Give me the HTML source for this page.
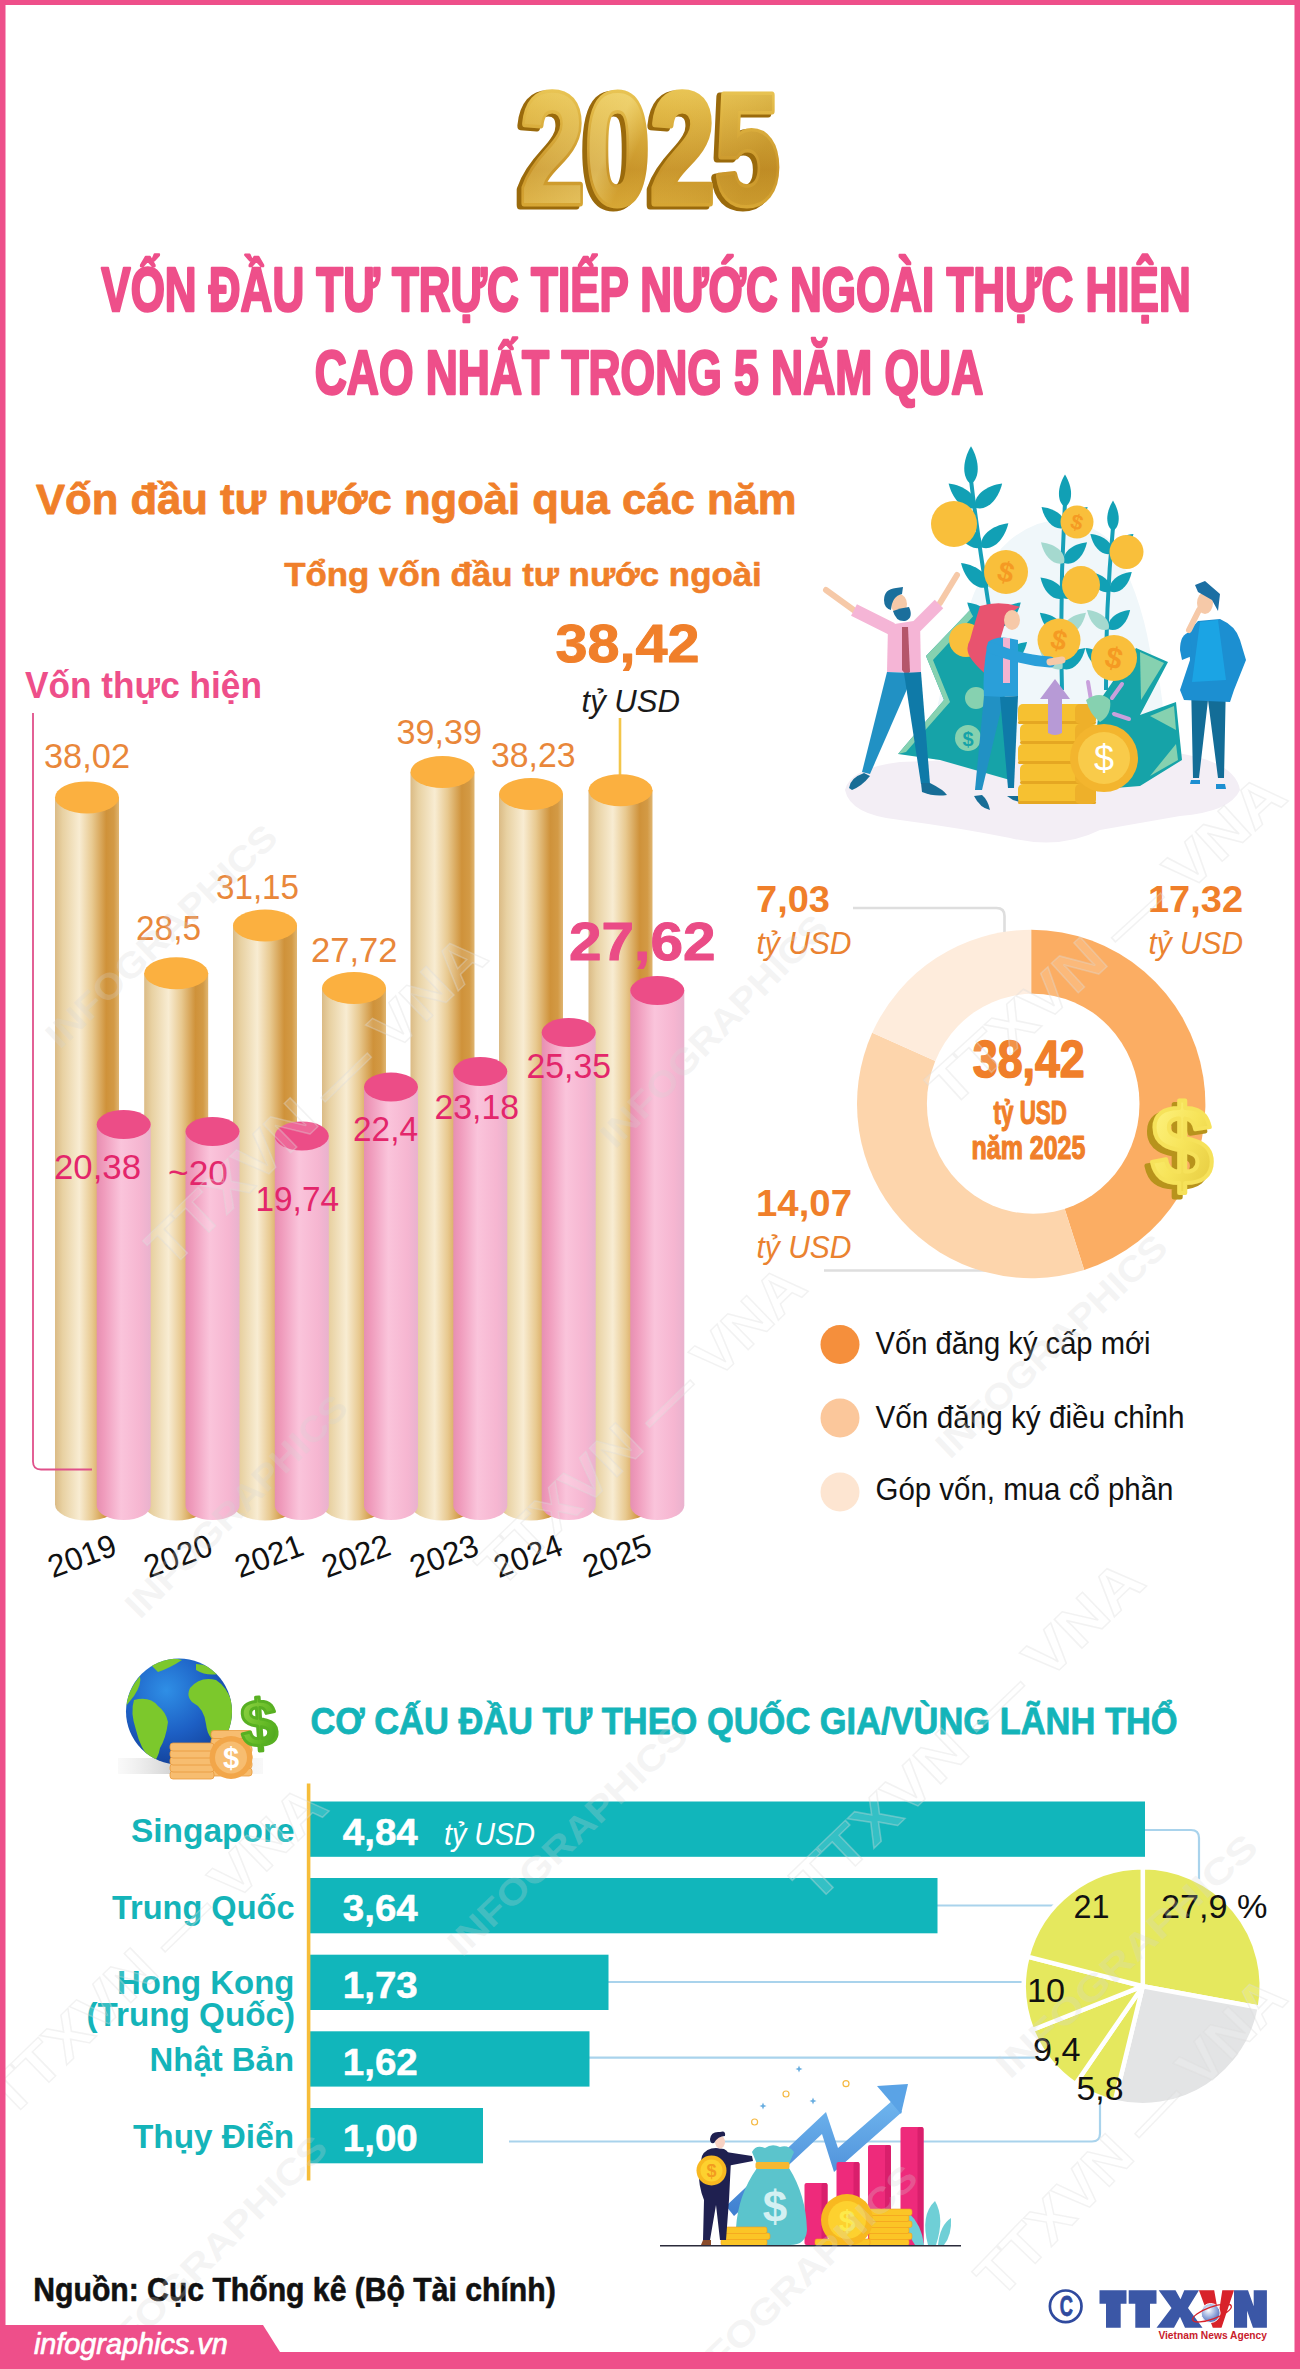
<!DOCTYPE html>
<html><head><meta charset="utf-8"><title>FDI 2025</title>
<style>html,body{margin:0;padding:0;background:#fff}svg{display:block}text{font-family:"Liberation Sans",sans-serif}</style>
</head><body>
<svg width="1300" height="2369" viewBox="0 0 1300 2369">
<rect x="0" y="0" width="1300" height="2369" fill="#fff"/>
<defs><linearGradient id="g25" x1="0" y1="0" x2="0" y2="1">
<stop offset="0" stop-color="#f3d668"/><stop offset="0.3" stop-color="#e0b644"/><stop offset="0.62" stop-color="#c9952a"/><stop offset="0.85" stop-color="#d8a835"/><stop offset="1" stop-color="#ecc452"/></linearGradient>
<linearGradient id="g25h" x1="0" y1="0" x2="1" y2="0.3"><stop offset="0" stop-color="#fff3a8" stop-opacity="0.0"/><stop offset="0.45" stop-color="#fff3a8" stop-opacity="0.35"/><stop offset="0.55" stop-color="#fff3a8" stop-opacity="0"/><stop offset="1" stop-color="#8a5a08" stop-opacity="0.15"/></linearGradient></defs>
<text x="516" y="205" font-family="Liberation Sans" font-weight="bold" font-size="157" textLength="260" lengthAdjust="spacingAndGlyphs" stroke-linejoin="round" fill="#9a6a0c" stroke="#9a6a0c" stroke-width="9">2025</text>
<text x="520" y="203" font-family="Liberation Sans" font-weight="bold" font-size="157" textLength="260" lengthAdjust="spacingAndGlyphs" stroke-linejoin="round" fill="url(#g25)" stroke="url(#g25)" stroke-width="7">2025</text>
<text x="520" y="203" font-family="Liberation Sans" font-weight="bold" font-size="157" textLength="260" lengthAdjust="spacingAndGlyphs" stroke-linejoin="round" fill="url(#g25h)" stroke="none">2025</text>
<text x="101.3" y="311.2" font-family="Liberation Sans" font-size="62.9" font-weight="bold" font-style="normal" fill="#ee4f8a" textLength="1089.4" lengthAdjust="spacingAndGlyphs"  stroke="#ee4f8a" stroke-width="2.6" stroke-linejoin="round">VỐN ĐẦU TƯ TRỰC TIẾP NƯỚC NGOÀI THỰC HIỆN</text>
<text x="314.8" y="394.2" font-family="Liberation Sans" font-size="62.9" font-weight="bold" font-style="normal" fill="#ee4f8a" textLength="668.4" lengthAdjust="spacingAndGlyphs"  stroke="#ee4f8a" stroke-width="2.6" stroke-linejoin="round">CAO NHẤT TRONG 5 NĂM QUA</text>
<text x="35.9" y="513.6" font-family="Liberation Sans" font-size="42.3" font-weight="bold" font-style="normal" fill="#f07f2a" textLength="760.7" lengthAdjust="spacingAndGlyphs"  stroke="#f07f2a" stroke-width="0.8" stroke-linejoin="round">Vốn đầu tư nước ngoài qua các năm</text>
<text x="284.3" y="585.7" font-family="Liberation Sans" font-size="33.2" font-weight="bold" font-style="normal" fill="#f07f2a" textLength="477.4" lengthAdjust="spacingAndGlyphs"  stroke="#f07f2a" stroke-width="0.6" stroke-linejoin="round">Tổng vốn đầu tư nước ngoài</text>
<text x="555.5" y="661.8" font-family="Liberation Sans" font-size="54.3" font-weight="bold" font-style="normal" fill="#f07f2a" textLength="144.0" lengthAdjust="spacingAndGlyphs"  stroke="#f07f2a" stroke-width="1" stroke-linejoin="round">38,42</text>
<text x="581.5" y="711.5" font-family="Liberation Sans" font-size="31.2" font-weight="normal" font-style="italic" fill="#1a1a1a" textLength="98.5" lengthAdjust="spacingAndGlyphs" >tỷ USD</text>
<text x="25.0" y="698.0" font-family="Liberation Sans" font-size="36.2" font-weight="bold" font-style="normal" fill="#ee4f8a" textLength="237.0" lengthAdjust="spacingAndGlyphs" >Vốn thực hiện</text>
<defs>
<linearGradient id="gG" x1="0" y1="0" x2="1" y2="0"><stop offset="0" stop-color="#dbbb85"/><stop offset="0.12" stop-color="#e8d1a2"/><stop offset="0.38" stop-color="#f8ecd2"/><stop offset="0.58" stop-color="#e8c990"/><stop offset="0.80" stop-color="#cf923a"/><stop offset="0.92" stop-color="#d39a45"/><stop offset="1" stop-color="#dfb571"/></linearGradient>
<linearGradient id="gP" x1="0" y1="0" x2="1" y2="0"><stop offset="0" stop-color="#e690b2"/><stop offset="0.12" stop-color="#ef9abb"/><stop offset="0.45" stop-color="#fac4db"/><stop offset="0.8" stop-color="#f6b6d1"/><stop offset="1" stop-color="#e9b2ce"/></linearGradient>
</defs>
<path d="M620 718 V775" stroke="#f3c64a" stroke-width="2.6"/>
<path d="M55 797.4 V1504.5 A32.0 16.0 0 0 0 119 1504.5 V797.4 Z" fill="url(#gG)"/>
<ellipse cx="87.0" cy="797.4" rx="32.0" ry="16.0" fill="#fbb040"/>
<path d="M144.2 973.3 V1504.5 A32.0 16.0 0 0 0 208.2 1504.5 V973.3 Z" fill="url(#gG)"/>
<ellipse cx="176.2" cy="973.3" rx="32.0" ry="16.0" fill="#fbb040"/>
<path d="M233 925.5 V1504.5 A32.0 16.0 0 0 0 297 1504.5 V925.5 Z" fill="url(#gG)"/>
<ellipse cx="265.0" cy="925.5" rx="32.0" ry="16.0" fill="#fbb040"/>
<path d="M322 988.0 V1504.5 A32.0 16.0 0 0 0 386 1504.5 V988.0 Z" fill="url(#gG)"/>
<ellipse cx="354.0" cy="988.0" rx="32.0" ry="16.0" fill="#fbb040"/>
<path d="M410.5 772.0 V1504.5 A32.0 16.0 0 0 0 474.5 1504.5 V772.0 Z" fill="url(#gG)"/>
<ellipse cx="442.5" cy="772.0" rx="32.0" ry="16.0" fill="#fbb040"/>
<path d="M499 794.0 V1504.5 A32.0 16.0 0 0 0 563 1504.5 V794.0 Z" fill="url(#gG)"/>
<ellipse cx="531.0" cy="794.0" rx="32.0" ry="16.0" fill="#fbb040"/>
<path d="M588.5 790.3 V1504.5 A32.0 16.0 0 0 0 652.5 1504.5 V790.3 Z" fill="url(#gG)"/>
<ellipse cx="620.5" cy="790.3" rx="32.0" ry="16.0" fill="#fbb040"/>
<path d="M33 713 V1461.5 Q33 1469.5 41 1469.5 H92" fill="none" stroke="#e0508a" stroke-width="1.8"/>
<path d="M96.7 1124.5 V1505.5 A27.0 14.5 0 0 0 150.7 1505.5 V1124.5 Z" fill="url(#gP)"/>
<ellipse cx="123.7" cy="1124.5" rx="27.0" ry="14.5" fill="#ec4d87"/>
<path d="M185.5 1131.5 V1505.5 A27.0 14.5 0 0 0 239.5 1505.5 V1131.5 Z" fill="url(#gP)"/>
<ellipse cx="212.5" cy="1131.5" rx="27.0" ry="14.5" fill="#ec4d87"/>
<path d="M274.8 1136.0 V1505.5 A27.0 14.5 0 0 0 328.8 1505.5 V1136.0 Z" fill="url(#gP)"/>
<ellipse cx="301.8" cy="1136.0" rx="27.0" ry="14.5" fill="#ec4d87"/>
<path d="M364 1087.1 V1505.5 A27.0 14.5 0 0 0 418 1505.5 V1087.1 Z" fill="url(#gP)"/>
<ellipse cx="391.0" cy="1087.1" rx="27.0" ry="14.5" fill="#ec4d87"/>
<path d="M453.3 1071.5 V1505.5 A27.0 14.5 0 0 0 507.3 1505.5 V1071.5 Z" fill="url(#gP)"/>
<ellipse cx="480.3" cy="1071.5" rx="27.0" ry="14.5" fill="#ec4d87"/>
<path d="M541.7 1032.5 V1505.5 A27.0 14.5 0 0 0 595.7 1505.5 V1032.5 Z" fill="url(#gP)"/>
<ellipse cx="568.7" cy="1032.5" rx="27.0" ry="14.5" fill="#ec4d87"/>
<path d="M630.3 990.5 V1505.5 A27.0 14.5 0 0 0 684.3 1505.5 V990.5 Z" fill="url(#gP)"/>
<ellipse cx="657.3" cy="990.5" rx="27.0" ry="14.5" fill="#ec4d87"/>
<text x="44.0" y="768.0" font-family="Liberation Sans" font-size="35.5" font-weight="normal" font-style="normal" fill="#e9873a" textLength="86.0" lengthAdjust="spacingAndGlyphs" >38,02</text>
<text x="136.0" y="940.0" font-family="Liberation Sans" font-size="35.5" font-weight="normal" font-style="normal" fill="#e9873a" textLength="65.0" lengthAdjust="spacingAndGlyphs" >28,5</text>
<text x="216.0" y="899.0" font-family="Liberation Sans" font-size="35.5" font-weight="normal" font-style="normal" fill="#e9873a" textLength="83.0" lengthAdjust="spacingAndGlyphs" >31,15</text>
<text x="311.0" y="961.5" font-family="Liberation Sans" font-size="35.5" font-weight="normal" font-style="normal" fill="#e9873a" textLength="86.5" lengthAdjust="spacingAndGlyphs" >27,72</text>
<text x="396.5" y="744.0" font-family="Liberation Sans" font-size="35.5" font-weight="normal" font-style="normal" fill="#e9873a" textLength="85.5" lengthAdjust="spacingAndGlyphs" >39,39</text>
<text x="491.0" y="766.5" font-family="Liberation Sans" font-size="35.5" font-weight="normal" font-style="normal" fill="#e9873a" textLength="84.5" lengthAdjust="spacingAndGlyphs" >38,23</text>
<text x="569.0" y="959.5" font-family="Liberation Sans" font-size="53.6" font-weight="bold" font-style="normal" fill="#ea4c86" textLength="146.5" lengthAdjust="spacingAndGlyphs"  stroke="#ea4c86" stroke-width="1" stroke-linejoin="round">27,62</text>
<text x="54.0" y="1178.5" font-family="Liberation Sans" font-size="35.5" font-weight="normal" font-style="normal" fill="#e3266b" textLength="87.0" lengthAdjust="spacingAndGlyphs" >20,38</text>
<text x="168.0" y="1185.0" font-family="Liberation Sans" font-size="35.5" font-weight="normal" font-style="normal" fill="#e3266b" textLength="60.0" lengthAdjust="spacingAndGlyphs" >~20</text>
<text x="255.5" y="1211.0" font-family="Liberation Sans" font-size="35.5" font-weight="normal" font-style="normal" fill="#e3266b" textLength="83.5" lengthAdjust="spacingAndGlyphs" >19,74</text>
<text x="353.0" y="1141.0" font-family="Liberation Sans" font-size="35.5" font-weight="normal" font-style="normal" fill="#e3266b" textLength="65.0" lengthAdjust="spacingAndGlyphs" >22,4</text>
<text x="434.5" y="1119.0" font-family="Liberation Sans" font-size="35.5" font-weight="normal" font-style="normal" fill="#e3266b" textLength="84.5" lengthAdjust="spacingAndGlyphs" >23,18</text>
<text x="526.5" y="1077.8" font-family="Liberation Sans" font-size="35.5" font-weight="normal" font-style="normal" fill="#e3266b" textLength="84.5" lengthAdjust="spacingAndGlyphs" >25,35</text>
<text x="82" y="1567" text-anchor="middle" font-family="Liberation Sans" font-size="32" fill="#111" transform="rotate(-20 82 1556)" textLength="70" lengthAdjust="spacingAndGlyphs">2019</text>
<text x="178" y="1567" text-anchor="middle" font-family="Liberation Sans" font-size="32" fill="#111" transform="rotate(-20 178 1556)" textLength="70" lengthAdjust="spacingAndGlyphs">2020</text>
<text x="269" y="1567" text-anchor="middle" font-family="Liberation Sans" font-size="32" fill="#111" transform="rotate(-20 269 1556)" textLength="70" lengthAdjust="spacingAndGlyphs">2021</text>
<text x="356" y="1567" text-anchor="middle" font-family="Liberation Sans" font-size="32" fill="#111" transform="rotate(-20 356 1556)" textLength="70" lengthAdjust="spacingAndGlyphs">2022</text>
<text x="444" y="1567" text-anchor="middle" font-family="Liberation Sans" font-size="32" fill="#111" transform="rotate(-20 444 1556)" textLength="70" lengthAdjust="spacingAndGlyphs">2023</text>
<text x="528" y="1567" text-anchor="middle" font-family="Liberation Sans" font-size="32" fill="#111" transform="rotate(-20 528 1556)" textLength="70" lengthAdjust="spacingAndGlyphs">2024</text>
<text x="617" y="1567" text-anchor="middle" font-family="Liberation Sans" font-size="32" fill="#111" transform="rotate(-20 617 1556)" textLength="70" lengthAdjust="spacingAndGlyphs">2025</text>
<g id="illus1">
<path d="M845 790 Q850 768 900 762 L1170 752 Q1235 760 1240 790 Q1230 812 1180 816 L1100 830 Q1060 850 1010 838 Q960 828 900 820 Q850 815 845 790 Z" fill="#f3eef5"/>
<path d="M935 760 Q930 700 960 640 Q975 570 1010 540 Q1060 500 1110 540 Q1140 590 1150 650 Q1170 700 1160 760 Z" fill="#f0f7fa"/>
<path d="M926 656 L973 607 L1000 625 L1010 780 L940 760 L898 754 L944 700 Z" fill="#16a3a8"/>
<path d="M926 656 L973 607 L978 611 L933 660 L950 702 L906 752 L898 754 L944 700 Z" fill="#86d1b0"/>
<circle cx="976" cy="698" r="11" fill="#86d1b0"/><circle cx="968" cy="738" r="13" fill="#86d1b0"/>
<text x="968" y="746" font-size="20" font-weight="bold" fill="#16a3a8" text-anchor="middle" font-family="Liberation Sans">$</text>
<path d="M1100 700 L1136 648 L1168 662 L1140 715 L1176 702 L1182 760 L1140 786 L1090 790 Z" fill="#16a3a8"/>
<path d="M1140 652 L1164 663 L1141 700 Z" fill="#86d1b0"/><path d="M1150 716 L1174 706 L1176 730 Z" fill="#86d1b0"/><path d="M1150 776 L1178 760 L1176 744 Z" fill="#86d1b0"/>
<path d="M1004 690 Q983.5 585.0 971 480" stroke="#17a0b8" stroke-width="4" fill="none"/>
<path d="M0 0 C5.4 -10 21.6 -10 36 0 C21.6 10 5.4 10 0 0 Z" fill="#11a0b5" transform="translate(1000.3 666.2) rotate(-42)"/>
<path d="M0 0 C5.4 -10 21.6 -10 36 0 C21.6 10 5.4 10 0 0 Z" fill="#a5d9cf" transform="translate(1000.3 666.2) rotate(-138)"/>
<path d="M0 0 C5.4 -10 21.6 -10 36 0 C21.6 10 5.4 10 0 0 Z" fill="#11a0b5" transform="translate(994.0 626.6) rotate(-42)"/>
<path d="M0 0 C5.4 -10 21.6 -10 36 0 C21.6 10 5.4 10 0 0 Z" fill="#11a0b5" transform="translate(994.0 626.6) rotate(-138)"/>
<path d="M0 0 C5.4 -10 21.6 -10 36 0 C21.6 10 5.4 10 0 0 Z" fill="#a5d9cf" transform="translate(987.8 587.0) rotate(-42)"/>
<path d="M0 0 C5.4 -10 21.6 -10 36 0 C21.6 10 5.4 10 0 0 Z" fill="#11a0b5" transform="translate(987.8 587.0) rotate(-138)"/>
<path d="M0 0 C5.4 -10 21.6 -10 36 0 C21.6 10 5.4 10 0 0 Z" fill="#11a0b5" transform="translate(981.6 547.4) rotate(-42)"/>
<path d="M0 0 C5.4 -10 21.6 -10 36 0 C21.6 10 5.4 10 0 0 Z" fill="#11a0b5" transform="translate(981.6 547.4) rotate(-138)"/>
<path d="M0 0 C5.4 -10 21.6 -10 36 0 C21.6 10 5.4 10 0 0 Z" fill="#11a0b5" transform="translate(975.4 507.7) rotate(-42)"/>
<path d="M0 0 C5.4 -10 21.6 -10 36 0 C21.6 10 5.4 10 0 0 Z" fill="#11a0b5" transform="translate(975.4 507.7) rotate(-138)"/>
<path d="M0 0 C5.7 -9.0 22.7 -9.0 37.800000000000004 0 C22.7 9.0 5.7 9.0 0 0 Z" fill="#11a0b5" transform="translate(971.0 484.0) rotate(-90)"/>
<path d="M1062 690 Q1059.5 596.5 1065 503" stroke="#17a0b8" stroke-width="4" fill="none"/>
<path d="M0 0 C4.6 -9 18.6 -9 31 0 C18.6 9 4.6 9 0 0 Z" fill="#11a0b5" transform="translate(1062.3 668.8) rotate(-42)"/>
<path d="M0 0 C4.6 -9 18.6 -9 31 0 C18.6 9 4.6 9 0 0 Z" fill="#a5d9cf" transform="translate(1062.3 668.8) rotate(-138)"/>
<path d="M0 0 C4.6 -9 18.6 -9 31 0 C18.6 9 4.6 9 0 0 Z" fill="#a5d9cf" transform="translate(1062.9 633.5) rotate(-42)"/>
<path d="M0 0 C4.6 -9 18.6 -9 31 0 C18.6 9 4.6 9 0 0 Z" fill="#11a0b5" transform="translate(1062.9 633.5) rotate(-138)"/>
<path d="M0 0 C4.6 -9 18.6 -9 31 0 C18.6 9 4.6 9 0 0 Z" fill="#11a0b5" transform="translate(1063.5 598.3) rotate(-42)"/>
<path d="M0 0 C4.6 -9 18.6 -9 31 0 C18.6 9 4.6 9 0 0 Z" fill="#11a0b5" transform="translate(1063.5 598.3) rotate(-138)"/>
<path d="M0 0 C4.6 -9 18.6 -9 31 0 C18.6 9 4.6 9 0 0 Z" fill="#11a0b5" transform="translate(1064.0 563.0) rotate(-42)"/>
<path d="M0 0 C4.6 -9 18.6 -9 31 0 C18.6 9 4.6 9 0 0 Z" fill="#a5d9cf" transform="translate(1064.0 563.0) rotate(-138)"/>
<path d="M0 0 C4.6 -9 18.6 -9 31 0 C18.6 9 4.6 9 0 0 Z" fill="#11a0b5" transform="translate(1064.6 527.7) rotate(-42)"/>
<path d="M0 0 C4.6 -9 18.6 -9 31 0 C18.6 9 4.6 9 0 0 Z" fill="#11a0b5" transform="translate(1064.6 527.7) rotate(-138)"/>
<path d="M0 0 C4.9 -8.1 19.5 -8.1 32.550000000000004 0 C19.5 8.1 4.9 8.1 0 0 Z" fill="#11a0b5" transform="translate(1065.0 507.0) rotate(-90)"/>
<path d="M1106 690 Q1105.5 608.5 1113 527" stroke="#17a0b8" stroke-width="4" fill="none"/>
<path d="M0 0 C4.3 -8.5 17.4 -8.5 29 0 C17.4 8.5 4.3 8.5 0 0 Z" fill="#11a0b5" transform="translate(1107.0 667.3) rotate(-42)"/>
<path d="M0 0 C4.3 -8.5 17.4 -8.5 29 0 C17.4 8.5 4.3 8.5 0 0 Z" fill="#11a0b5" transform="translate(1107.0 667.3) rotate(-138)"/>
<path d="M0 0 C4.3 -8.5 17.4 -8.5 29 0 C17.4 8.5 4.3 8.5 0 0 Z" fill="#11a0b5" transform="translate(1108.6 629.3) rotate(-42)"/>
<path d="M0 0 C4.3 -8.5 17.4 -8.5 29 0 C17.4 8.5 4.3 8.5 0 0 Z" fill="#a5d9cf" transform="translate(1108.6 629.3) rotate(-138)"/>
<path d="M0 0 C4.3 -8.5 17.4 -8.5 29 0 C17.4 8.5 4.3 8.5 0 0 Z" fill="#11a0b5" transform="translate(1110.2 591.4) rotate(-42)"/>
<path d="M0 0 C4.3 -8.5 17.4 -8.5 29 0 C17.4 8.5 4.3 8.5 0 0 Z" fill="#11a0b5" transform="translate(1110.2 591.4) rotate(-138)"/>
<path d="M0 0 C4.3 -8.5 17.4 -8.5 29 0 C17.4 8.5 4.3 8.5 0 0 Z" fill="#11a0b5" transform="translate(1111.9 553.5) rotate(-42)"/>
<path d="M0 0 C4.3 -8.5 17.4 -8.5 29 0 C17.4 8.5 4.3 8.5 0 0 Z" fill="#11a0b5" transform="translate(1111.9 553.5) rotate(-138)"/>
<path d="M0 0 C4.6 -7.65 18.3 -7.65 30.450000000000003 0 C18.3 7.65 4.6 7.65 0 0 Z" fill="#11a0b5" transform="translate(1113.0 531.0) rotate(-90)"/>
<circle cx="954" cy="524" r="23" fill="#f9bf3b"/>
<circle cx="1006" cy="572" r="22" fill="#f9bf3b"/>
<text x="1006" y="581.9" font-size="28.6" font-weight="bold" fill="#f59a23" text-anchor="middle" font-family="Liberation Sans" transform="rotate(15 1006 572)">$</text>
<circle cx="1077" cy="522" r="16.5" fill="#f9bf3b"/>
<text x="1077" y="529.425" font-size="21.4" font-weight="bold" fill="#f59a23" text-anchor="middle" font-family="Liberation Sans" transform="rotate(15 1077 522)">$</text>
<circle cx="1126.5" cy="552" r="17" fill="#f9bf3b"/>
<circle cx="1081" cy="585" r="19" fill="#f9bf3b"/>
<circle cx="966" cy="640" r="17" fill="#f9bf3b"/>
<circle cx="1059" cy="640" r="21.5" fill="#f9bf3b"/>
<text x="1059" y="649.675" font-size="27.9" font-weight="bold" fill="#f59a23" text-anchor="middle" font-family="Liberation Sans" transform="rotate(15 1059 640)">$</text>
<circle cx="1114" cy="658" r="23" fill="#f9bf3b"/>
<text x="1114" y="668.35" font-size="29.9" font-weight="bold" fill="#f59a23" text-anchor="middle" font-family="Liberation Sans" transform="rotate(15 1114 658)">$</text>
<path d="M855 611 L826 590" stroke="#f6c9a8" stroke-width="6" stroke-linecap="round"/>
<path d="M940 603 L957 575" stroke="#f6c9a8" stroke-width="6" stroke-linecap="round"/>
<path d="M854 610 L892 629" stroke="#f5b5d6" stroke-width="13" stroke-linecap="butt"/>
<path d="M916 627 L939 604" stroke="#f5b5d6" stroke-width="12" stroke-linecap="butt"/>
<path d="M888 625 L920 620 L921 673 L887 672 Z" fill="#f5b5d6"/>
<path d="M902 627 L908 627 L910 672 L906 675 L902 670 Z" fill="#b5566b"/>
<path d="M887 672 L914 673 L870 774 L862 772 Z" fill="#2191c4"/>
<path d="M904 673 L921 672 L930 784 L921 784 Z" fill="#0f7aa8"/>
<path d="M849 788 Q850 778 864 773 L870 776 Q862 786 852 790 Z" fill="#176d96"/>
<path d="M921 783 L930 783 Q944 790 947 795 Q934 797 922 792 Z" fill="#176d96"/>
<ellipse cx="899" cy="604" rx="8" ry="10" fill="#f6c9a8"/>
<path d="M884 600 Q884 589 896 588 L903 587 L902 594 Q892 596 891 610 Q884 608 884 600 Z" fill="#1b6f9c"/>
<path d="M893 611 Q900 608 909 607 Q914 618 905 621 Q896 622 893 611 Z" fill="#1b6f9c"/>
<path d="M980 606 Q1000 600 1020 607 Q1010 612 1006 620 L1000 640 Q990 650 988 676 Q978 668 972 660 Q964 650 970 640 Q974 625 980 606 Z" fill="#e8536f"/>
<ellipse cx="1012" cy="620" rx="8" ry="10" fill="#f6c9a8"/>
<path d="M988 642 Q996 636 1008 638 L1018 640 L1018 696 L984 698 Q982 670 988 642 Z" fill="#2a9fd9"/>
<rect x="1003" y="638" width="7" height="45" fill="#f3b3d0"/>
<path d="M992 648 Q1020 660 1050 662" stroke="#2a9fd9" stroke-width="11" stroke-linecap="round" fill="none"/>
<path d="M1050 662 L1062 660" stroke="#f6c9a8" stroke-width="7" stroke-linecap="round"/>
<path d="M984 696 L1004 697 L982 790 L975 790 Z" fill="#2191c4"/>
<path d="M1000 697 L1018 696 L1014 788 L1008 788 Z" fill="#0f7aa8"/>
<path d="M974 796 Q980 808 990 810 Q988 800 982 795 Z" fill="#176d96"/><path d="M1007 796 Q1014 802 1022 802 L1020 796 Z" fill="#176d96"/>
<rect x="1018" y="784" width="78" height="20" rx="5" fill="#f6c131"/>
<rect x="1018" y="801" width="78" height="3" rx="1.5" fill="#e5a722"/>
<rect x="1075" y="784" width="21" height="20" rx="5" fill="#eeb02a"/>
<rect x="1020" y="764" width="78" height="20" rx="5" fill="#f6c131"/>
<rect x="1020" y="781" width="78" height="3" rx="1.5" fill="#e5a722"/>
<rect x="1075" y="764" width="21" height="20" rx="5" fill="#eeb02a"/>
<rect x="1018" y="744" width="78" height="20" rx="5" fill="#f6c131"/>
<rect x="1018" y="761" width="78" height="3" rx="1.5" fill="#e5a722"/>
<rect x="1075" y="744" width="21" height="20" rx="5" fill="#eeb02a"/>
<rect x="1020" y="724" width="78" height="20" rx="5" fill="#f6c131"/>
<rect x="1020" y="741" width="78" height="3" rx="1.5" fill="#e5a722"/>
<rect x="1075" y="724" width="21" height="20" rx="5" fill="#eeb02a"/>
<rect x="1018" y="704" width="78" height="20" rx="5" fill="#f6c131"/>
<rect x="1018" y="721" width="78" height="3" rx="1.5" fill="#e5a722"/>
<rect x="1075" y="704" width="21" height="20" rx="5" fill="#eeb02a"/>
<circle cx="1104" cy="758" r="34" fill="#f3b52e"/><circle cx="1104" cy="758" r="26" fill="#f9cb4a"/>
<text x="1104" y="771" font-size="36" fill="#fff" text-anchor="middle" font-family="Liberation Sans">$</text>
<path d="M1055 679 L1070 699 L1062 699 L1062 733 Q1055 737 1048 733 L1048 699 L1040 699 Z" fill="#b79ad6"/>
<path d="M1088 682 L1091 700" stroke="#c9a0dc" stroke-width="4" stroke-linecap="round"/><path d="M1122 684 L1112 698" stroke="#c9a0dc" stroke-width="4" stroke-linecap="round"/><path d="M1114 714 L1129 719" stroke="#c9a0dc" stroke-width="4" stroke-linecap="round"/>
<path d="M1086 700 Q1100 690 1110 700 Q1112 715 1100 722 Q1090 715 1086 700 Z" fill="#86d1b0"/>
<path d="M1191 682 L1226 680 L1224 778 L1218 778 L1208 700 L1199 778 L1193 778 Z" fill="#136d97"/>
<path d="M1198 621 L1220 619 Q1236 626 1240 640 L1246 660 L1234 690 L1230 702 L1184 700 L1180 690 L1190 660 L1188 632 Z" fill="#1c8fd1"/>
<path d="M1200 622 L1218 620 L1226 680 L1192 682 Z" fill="#1ba4e4"/>
<path d="M1190 632 Q1180 634 1180 650 L1182 660 L1192 656 Z" fill="#1c8fd1"/>
<path d="M1189 630 L1199 610" stroke="#f6c9a8" stroke-width="6" stroke-linecap="round"/>
<ellipse cx="1205" cy="603" rx="8" ry="11" fill="#f6c9a8"/>
<path d="M1195 585 L1205 581 L1220 594 L1218 611 L1212 600 L1198 592 Z" fill="#1c6fa3"/>
<path d="M1191 780 h9 v4 h-10 Z" fill="#1c8fd1"/><path d="M1216 784 h9 l1 5 h-10 Z" fill="#1c8fd1"/>
</g>
<path d="M853 908 H996.5 Q1004.5 908 1004.5 916 V934" fill="none" stroke="#dedede" stroke-width="2.6"/>
<path d="M824 1270.5 H1027" fill="none" stroke="#dedede" stroke-width="2.6"/>
<path d="M1031.2 1104 L1031.20 929.80 A174.2 174.2 0 0 1 1084.19 1269.94 Z" fill="#fbad63"/>
<path d="M1031.2 1104 L1084.19 1269.94 A174.2 174.2 0 0 1 872.22 1032.79 Z" fill="#fdd5ac"/>
<path d="M1031.2 1104 L872.22 1032.79 A174.2 174.2 0 0 1 1031.20 929.80 Z" fill="#feecdc"/>
<ellipse cx="1033.2" cy="1103.8" rx="106.3" ry="110" fill="#fff"/>
<text x="756.0" y="912.0" font-family="Liberation Sans" font-size="36.2" font-weight="bold" font-style="normal" fill="#f07f2a" textLength="74.0" lengthAdjust="spacingAndGlyphs" >7,03</text>
<text x="756.5" y="954.0" font-family="Liberation Sans" font-size="31.9" font-weight="normal" font-style="italic" fill="#ea8230" textLength="95.0" lengthAdjust="spacingAndGlyphs" >tỷ USD</text>
<text x="1148.0" y="912.0" font-family="Liberation Sans" font-size="36.2" font-weight="bold" font-style="normal" fill="#f07f2a" textLength="95.0" lengthAdjust="spacingAndGlyphs" >17,32</text>
<text x="1148.5" y="954.0" font-family="Liberation Sans" font-size="31.9" font-weight="normal" font-style="italic" fill="#ea8230" textLength="94.5" lengthAdjust="spacingAndGlyphs" >tỷ USD</text>
<text x="756.0" y="1216.0" font-family="Liberation Sans" font-size="36.2" font-weight="bold" font-style="normal" fill="#f07f2a" textLength="96.0" lengthAdjust="spacingAndGlyphs" >14,07</text>
<text x="756.5" y="1257.5" font-family="Liberation Sans" font-size="31.9" font-weight="normal" font-style="italic" fill="#ea8230" textLength="95.0" lengthAdjust="spacingAndGlyphs" >tỷ USD</text>
<text x="972.8" y="1077.2" font-family="Liberation Sans" font-size="51.3" font-weight="bold" font-style="normal" fill="#f07f2a" textLength="111.9" lengthAdjust="spacingAndGlyphs"  stroke="#f07f2a" stroke-width="1.6" stroke-linejoin="round">38,42</text>
<text x="993.6" y="1124.4" font-family="Liberation Sans" font-size="32.3" font-weight="bold" font-style="normal" fill="#f07f2a" textLength="73.3" lengthAdjust="spacingAndGlyphs"  stroke="#f07f2a" stroke-width="1.2" stroke-linejoin="round">tỷ USD</text>
<text x="971.6" y="1159.4" font-family="Liberation Sans" font-size="32.3" font-weight="bold" font-style="normal" fill="#f07f2a" textLength="113.8" lengthAdjust="spacingAndGlyphs"  stroke="#f07f2a" stroke-width="1.2" stroke-linejoin="round">năm 2025</text>
<defs><linearGradient id="gD" x1="0" y1="0" x2="1" y2="1"><stop offset="0" stop-color="#fff68a"/><stop offset="0.5" stop-color="#f7e45a"/><stop offset="1" stop-color="#e2c53a"/></linearGradient></defs>
<text x="1177" y="1189" text-anchor="middle" font-family="Liberation Sans" font-weight="bold" font-size="113" fill="#b8931c" stroke="#b8931c" stroke-width="5" stroke-linejoin="round">$</text>
<text x="1182" y="1185" text-anchor="middle" font-family="Liberation Sans" font-weight="bold" font-size="113" fill="url(#gD)" stroke="#f6e25a" stroke-width="4" stroke-linejoin="round">$</text>
<circle cx="840" cy="1344.5" r="19.5" fill="#f58f3c"/>
<text x="875.5" y="1354.0" font-family="Liberation Sans" font-size="31.9" font-weight="normal" font-style="normal" fill="#111" textLength="275.0" lengthAdjust="spacingAndGlyphs" >Vốn đăng ký cấp mới</text>
<circle cx="840" cy="1418" r="19.5" fill="#fbc79b"/>
<text x="875.5" y="1427.5" font-family="Liberation Sans" font-size="31.9" font-weight="normal" font-style="normal" fill="#111" textLength="309.0" lengthAdjust="spacingAndGlyphs" >Vốn đăng ký điều chỉnh</text>
<circle cx="840" cy="1492" r="19.5" fill="#fde5d1"/>
<text x="875.5" y="1499.5" font-family="Liberation Sans" font-size="31.9" font-weight="normal" font-style="normal" fill="#111" textLength="298.0" lengthAdjust="spacingAndGlyphs" >Góp vốn, mua cổ phần</text>
<text x="310.4" y="1734.4" font-family="Liberation Sans" font-size="36.5" font-weight="bold" font-style="normal" fill="#14b4b9" textLength="867.2" lengthAdjust="spacingAndGlyphs"  stroke="#14b4b9" stroke-width="0.8" stroke-linejoin="round">CƠ CẤU ĐẦU TƯ THEO QUỐC GIA/VÙNG LÃNH THỔ</text>
<path d="M1145 1830 H1191 Q1199 1830 1199 1838 V1890" fill="none" stroke="#a9d3ec" stroke-width="2.2"/>
<path d="M937 1905.5 H1056" fill="none" stroke="#a9d3ec" stroke-width="2.2"/>
<path d="M608 1982 H1023" fill="none" stroke="#a9d3ec" stroke-width="2.2"/>
<path d="M589 2057.7 H1036" fill="none" stroke="#a9d3ec" stroke-width="2.2"/>
<path d="M509 2141.5 H1092 Q1100 2141.5 1100 2133.5 V2095" fill="none" stroke="#a9d3ec" stroke-width="2.2"/>
<rect x="310" y="1801.5" width="835" height="55.3" fill="#11b6bb"/>
<rect x="310" y="1878" width="627.5" height="55.3" fill="#11b6bb"/>
<rect x="310" y="1954.7" width="298.5" height="55.3" fill="#11b6bb"/>
<rect x="310" y="2031.3" width="279.5" height="55.3" fill="#11b6bb"/>
<rect x="310" y="2108" width="173" height="55.3" fill="#11b6bb"/>
<rect x="306.8" y="1783.5" width="3.6" height="397" fill="#f6bd3a"/>
<text x="131.0" y="1842.0" font-family="Liberation Sans" font-size="34.1" font-weight="bold" font-style="normal" fill="#14b4b9" textLength="163.5" lengthAdjust="spacingAndGlyphs" >Singapore</text>
<text x="112.0" y="1919.0" font-family="Liberation Sans" font-size="34.1" font-weight="bold" font-style="normal" fill="#14b4b9" textLength="182.5" lengthAdjust="spacingAndGlyphs" >Trung Quốc</text>
<text x="117.0" y="1994.0" font-family="Liberation Sans" font-size="33.3" font-weight="bold" font-style="normal" fill="#14b4b9" textLength="177.5" lengthAdjust="spacingAndGlyphs" >Hong Kong</text>
<text x="86.5" y="2025.7" font-family="Liberation Sans" font-size="32.6" font-weight="bold" font-style="normal" fill="#14b4b9" textLength="208.5" lengthAdjust="spacingAndGlyphs" >(Trung Quốc)</text>
<text x="149.5" y="2071.3" font-family="Liberation Sans" font-size="33.8" font-weight="bold" font-style="normal" fill="#14b4b9" textLength="144.5" lengthAdjust="spacingAndGlyphs" >Nhật Bản</text>
<text x="133.0" y="2147.5" font-family="Liberation Sans" font-size="34.1" font-weight="bold" font-style="normal" fill="#14b4b9" textLength="161.0" lengthAdjust="spacingAndGlyphs" >Thụy Điển</text>
<text x="342.8" y="1844.8" font-family="Liberation Sans" font-size="36.2" font-weight="bold" font-style="normal" fill="#fff" textLength="75.0" lengthAdjust="spacingAndGlyphs"  stroke="#fff" stroke-width="0.5" stroke-linejoin="round">4,84</text>
<text x="342.8" y="1921.3" font-family="Liberation Sans" font-size="36.2" font-weight="bold" font-style="normal" fill="#fff" textLength="75.0" lengthAdjust="spacingAndGlyphs"  stroke="#fff" stroke-width="0.5" stroke-linejoin="round">3,64</text>
<text x="342.8" y="1998.0" font-family="Liberation Sans" font-size="36.2" font-weight="bold" font-style="normal" fill="#fff" textLength="75.0" lengthAdjust="spacingAndGlyphs"  stroke="#fff" stroke-width="0.5" stroke-linejoin="round">1,73</text>
<text x="342.8" y="2074.6" font-family="Liberation Sans" font-size="36.2" font-weight="bold" font-style="normal" fill="#fff" textLength="75.0" lengthAdjust="spacingAndGlyphs"  stroke="#fff" stroke-width="0.5" stroke-linejoin="round">1,62</text>
<text x="342.8" y="2151.2" font-family="Liberation Sans" font-size="36.2" font-weight="bold" font-style="normal" fill="#fff" textLength="75.0" lengthAdjust="spacingAndGlyphs"  stroke="#fff" stroke-width="0.5" stroke-linejoin="round">1,00</text>
<text x="444.0" y="1844.5" font-family="Liberation Sans" font-size="31.9" font-weight="normal" font-style="italic" fill="#fff" textLength="91.0" lengthAdjust="spacingAndGlyphs" >tỷ USD</text>
<path d="M1142.80 1986.20 L1142.80 1867.20 A119 119 0 0 1 1259.83 2007.76 Z" fill="#e5e85e" stroke="#fff" stroke-width="4.5" stroke-linejoin="round"/>
<path d="M1142.80 1986.20 L1259.83 2007.76 A119 119 0 0 1 1114.66 2101.82 Z" fill="#e3e4e5" stroke="#fff" stroke-width="4.5" stroke-linejoin="round"/>
<path d="M1142.80 1986.20 L1114.66 2101.82 A119 119 0 0 1 1075.29 2084.20 Z" fill="#e5e85e" stroke="#fff" stroke-width="4.5" stroke-linejoin="round"/>
<path d="M1142.80 1986.20 L1075.29 2084.20 A119 119 0 0 1 1032.16 2030.01 Z" fill="#e5e85e" stroke="#fff" stroke-width="4.5" stroke-linejoin="round"/>
<path d="M1142.80 1986.20 L1032.16 2030.01 A119 119 0 0 1 1027.54 1956.61 Z" fill="#e5e85e" stroke="#fff" stroke-width="4.5" stroke-linejoin="round"/>
<path d="M1142.80 1986.20 L1027.54 1956.61 A119 119 0 0 1 1142.80 1867.20 Z" fill="#e5e85e" stroke="#fff" stroke-width="4.5" stroke-linejoin="round"/>
<text x="1073.5" y="1917.8" font-family="Liberation Sans" font-size="34.1" font-weight="normal" font-style="normal" fill="#111" textLength="36.0" lengthAdjust="spacingAndGlyphs" >21</text>
<text x="1161.0" y="1917.8" font-family="Liberation Sans" font-size="34.1" font-weight="normal" font-style="normal" fill="#111" textLength="106.5" lengthAdjust="spacingAndGlyphs" >27,9 %</text>
<text x="1027.0" y="2002.4" font-family="Liberation Sans" font-size="34.1" font-weight="normal" font-style="normal" fill="#111" textLength="38.0" lengthAdjust="spacingAndGlyphs" >10</text>
<text x="1033.0" y="2061.0" font-family="Liberation Sans" font-size="34.1" font-weight="normal" font-style="normal" fill="#111" textLength="47.5" lengthAdjust="spacingAndGlyphs" >9,4</text>
<text x="1076.5" y="2099.6" font-family="Liberation Sans" font-size="34.1" font-weight="normal" font-style="normal" fill="#111" textLength="47.0" lengthAdjust="spacingAndGlyphs" >5,8</text>
<g id="globe">
<defs><radialGradient id="gGl" cx="0.38" cy="0.3" r="0.75"><stop offset="0" stop-color="#2f8fe6"/><stop offset="0.55" stop-color="#1d5fc4"/><stop offset="1" stop-color="#123f96"/></radialGradient>
<linearGradient id="gSh" x1="0" y1="0" x2="1" y2="0"><stop offset="0" stop-color="#e4e4e4" stop-opacity="0.2"/><stop offset="0.4" stop-color="#cfcfcf"/><stop offset="1" stop-color="#e8e8e8" stop-opacity="0.3"/></linearGradient>
<clipPath id="cGl"><circle cx="179" cy="1711.5" r="53"/></clipPath></defs>
<rect x="118" y="1758" width="145" height="16" fill="url(#gSh)"/>
<circle cx="179" cy="1711.5" r="53" fill="url(#gGl)"/>
<g clip-path="url(#cGl)" fill="#7cc82c">
<path d="M134 1700 Q150 1696 158 1706 Q166 1712 168 1722 Q166 1738 160 1748 Q158 1760 152 1762 Q140 1748 136 1730 Q130 1712 134 1700 Z"/>
<path d="M190 1688 Q200 1676 216 1680 Q232 1690 236 1720 Q234 1740 222 1744 Q208 1742 206 1724 Q204 1708 192 1702 Q186 1696 190 1688 Z"/>
<path d="M150 1664 Q170 1656 182 1660 Q170 1668 158 1672 Z"/><path d="M196 1664 Q210 1664 218 1674 Q206 1676 196 1670 Z"/>
<path d="M126 1706 Q128 1690 140 1676 Q142 1684 134 1696 Z"/>
</g>
<rect x="211" y="1768.0" width="41" height="8" rx="3" fill="#f7bd70" stroke="#e89a3c" stroke-width="0.8"/>
<rect x="211" y="1760.5" width="41" height="8" rx="3" fill="#f7bd70" stroke="#e89a3c" stroke-width="0.8"/>
<rect x="211" y="1753.0" width="41" height="8" rx="3" fill="#f7bd70" stroke="#e89a3c" stroke-width="0.8"/>
<rect x="211" y="1745.5" width="41" height="8" rx="3" fill="#f7bd70" stroke="#e89a3c" stroke-width="0.8"/>
<rect x="211" y="1738.0" width="41" height="8" rx="3" fill="#f7bd70" stroke="#e89a3c" stroke-width="0.8"/>
<rect x="211" y="1730.5" width="41" height="8" rx="3" fill="#f7bd70" stroke="#e89a3c" stroke-width="0.8"/>
<rect x="170" y="1771" width="44" height="8" rx="3" fill="#f7bd70" stroke="#e89a3c" stroke-width="0.8"/>
<rect x="170" y="1764" width="44" height="8" rx="3" fill="#f7bd70" stroke="#e89a3c" stroke-width="0.8"/>
<rect x="170" y="1757" width="44" height="8" rx="3" fill="#f7bd70" stroke="#e89a3c" stroke-width="0.8"/>
<rect x="170" y="1750" width="44" height="8" rx="3" fill="#f7bd70" stroke="#e89a3c" stroke-width="0.8"/>
<rect x="170" y="1743" width="44" height="8" rx="3" fill="#f7bd70" stroke="#e89a3c" stroke-width="0.8"/>
<circle cx="231" cy="1757.5" r="21.5" fill="#f2a649"/><circle cx="231" cy="1757.5" r="16" fill="#f7bd70"/>
<text x="231" y="1768" font-size="29" font-weight="bold" fill="#fff" text-anchor="middle" font-family="Liberation Sans">$</text>
<defs><linearGradient id="gGr" x1="0" y1="0" x2="1" y2="1"><stop offset="0" stop-color="#9ad94a"/><stop offset="0.6" stop-color="#63b925"/><stop offset="1" stop-color="#3f9a1c"/></linearGradient></defs>
<text x="259" y="1746" font-size="66" font-weight="bold" fill="url(#gGr)" stroke="#58b022" stroke-width="3" stroke-linejoin="round" text-anchor="middle" font-family="Liberation Sans" transform="rotate(-4 259 1722)">$</text>
</g>
<g id="illus2">
<defs><linearGradient id="gAr" x1="0" y1="0" x2="0" y2="1"><stop offset="0" stop-color="#6fb5ee"/><stop offset="1" stop-color="#3f7fd0"/></linearGradient></defs>
<path d="M726 2206 L826 2112 L838 2148 L893 2100 L902 2112 L834 2172 L822 2134 L734 2216 Z" fill="url(#gAr)"/>
<path d="M877 2086 L908 2084 L901 2114 Z" fill="#5aa3e6"/>
<circle cx="754.6" cy="2122" r="3" fill="none" stroke="#f5b942" stroke-width="1.2"/>
<circle cx="786" cy="2094" r="3" fill="none" stroke="#f5b942" stroke-width="1.2"/>
<circle cx="846" cy="2083.7" r="3" fill="none" stroke="#f5b942" stroke-width="1.2"/>
<path d="M799 2065.5 L800 2068 L802.5 2069 L800 2070 L799 2072.5 L798 2070 L795.5 2069 L798 2068 Z" fill="#6aaee0"/>
<path d="M813 2097.5 L814 2100 L816.5 2101 L814 2102 L813 2104.5 L812 2102 L809.5 2101 L812 2100 Z" fill="#6aaee0"/>
<path d="M763 2102.5 L764 2105 L766.5 2106 L764 2107 L763 2109.5 L762 2107 L759.5 2106 L762 2105 Z" fill="#6aaee0"/>
<rect x="804.5" y="2183" width="23" height="62" rx="2" fill="#ee2a7b"/>
<rect x="821.5" y="2183" width="6" height="62" rx="2" fill="#d91f6c"/>
<rect x="836.5" y="2162" width="23" height="83" rx="2" fill="#ee2a7b"/>
<rect x="853.5" y="2162" width="6" height="83" rx="2" fill="#d91f6c"/>
<rect x="868" y="2145" width="23" height="100" rx="2" fill="#ee2a7b"/>
<rect x="885" y="2145" width="6" height="100" rx="2" fill="#d91f6c"/>
<rect x="900.5" y="2127" width="23" height="118" rx="2" fill="#ee2a7b"/>
<rect x="917.5" y="2127" width="6" height="118" rx="2" fill="#d91f6c"/>
<path d="M928 2245 Q920 2215 935 2201 Q945 2218 936 2245 Z" fill="#6fcfd6"/><path d="M915 2245 Q902 2225 908 2212 Q922 2225 924 2245 Z" fill="#6fcfd6"/><path d="M938 2245 Q940 2225 951 2218 Q952 2235 944 2245 Z" fill="#6fcfd6"/>
<path d="M752 2152 Q756 2144 765 2148 Q772 2143 780 2147 Q788 2144 794 2152 L789 2164 L757 2164 Z" fill="#5bc4cc"/>
<path d="M757 2168 L789 2168 Q806 2195 807 2230 Q806 2245 790 2245 L752 2245 Q735 2243 736 2228 Q738 2195 757 2168 Z" fill="#5bc4cc"/>
<rect x="755.5" y="2162" width="34" height="7" rx="2" fill="#f5b830"/>
<text x="775" y="2222" font-size="44" font-weight="bold" fill="#d3f0f2" text-anchor="middle" font-family="Liberation Sans">$</text>
<rect x="721" y="2239" width="46" height="6.5" rx="2" fill="#fbc526" stroke="#f39c1f" stroke-width="0.6"/>
<rect x="724" y="2233" width="46" height="6.5" rx="2" fill="#fbc526" stroke="#f39c1f" stroke-width="0.6"/>
<rect x="721" y="2227" width="46" height="6.5" rx="2" fill="#fbc526" stroke="#f39c1f" stroke-width="0.6"/>
<rect x="866" y="2239" width="43" height="6.5" rx="2" fill="#fbc526" stroke="#f39c1f" stroke-width="0.6"/>
<rect x="869" y="2233" width="43" height="6.5" rx="2" fill="#fbc526" stroke="#f39c1f" stroke-width="0.6"/>
<rect x="866" y="2227" width="43" height="6.5" rx="2" fill="#fbc526" stroke="#f39c1f" stroke-width="0.6"/>
<rect x="869" y="2221" width="43" height="6.5" rx="2" fill="#fbc526" stroke="#f39c1f" stroke-width="0.6"/>
<rect x="866" y="2215" width="43" height="6.5" rx="2" fill="#fbc526" stroke="#f39c1f" stroke-width="0.6"/>
<rect x="869" y="2209" width="43" height="6.5" rx="2" fill="#fbc526" stroke="#f39c1f" stroke-width="0.6"/>
<rect x="815" y="2239" width="55" height="6.5" rx="2" fill="#fbc526" stroke="#f39c1f" stroke-width="0.6"/>
<circle cx="847" cy="2220" r="26" fill="#f8b820"/><circle cx="847" cy="2220" r="19" fill="#fdd12f"/>
<text x="847" y="2231" font-size="30" font-weight="bold" fill="#fde94a" text-anchor="middle" font-family="Liberation Sans">$</text>
<path d="M702 2156 Q706 2148 716 2148 L724 2149 Q730 2152 731 2160 L729 2200 L726 2240 L720 2240 L716 2205 L710 2240 L703 2240 L704 2200 Q698 2185 699 2170 Z" fill="#1f2050"/>
<path d="M726 2152 L752 2156 L753 2161 L727 2166 Z" fill="#1f2050"/>
<ellipse cx="720" cy="2142" rx="5" ry="6.5" fill="#f8d2c4"/>
<path d="M710 2139 Q711 2131 720 2132 Q726 2130 725 2136 Q718 2136 714 2143 Q710 2144 710 2139 Z" fill="#1f2050"/>
<path d="M703 2240 h8 v5 h-10 Z" fill="#8a4b2a"/>
<circle cx="711.5" cy="2170.5" r="15" fill="#f8b820"/><circle cx="711.5" cy="2170.5" r="11" fill="#fdd12f"/>
<text x="711.5" y="2177" font-size="18" font-weight="bold" fill="#f39c1f" text-anchor="middle" font-family="Liberation Sans">$</text>
<path d="M660 2245.7 H961" stroke="#2b2b3b" stroke-width="1.5"/>
</g>
<text x="33.3" y="2301.2" font-family="Liberation Sans" font-size="33.2" font-weight="bold" font-style="normal" fill="#111" textLength="522.4" lengthAdjust="spacingAndGlyphs"  stroke="#111" stroke-width="0.6" stroke-linejoin="round">Nguồn: Cục Thống kê (Bộ Tài chính)</text>
<circle cx="1065.7" cy="2306.3" r="15.8" fill="none" stroke="#2f4a9e" stroke-width="2.7"/>
<text x="1059.7" y="2316.1" font-family="Liberation Sans" font-size="28.6" font-weight="bold" font-style="normal" fill="#2f4a9e" textLength="13.2" lengthAdjust="spacingAndGlyphs"  stroke="#2f4a9e" stroke-width="0.8" stroke-linejoin="round">C</text>
<path d="M1099.5 2290.2 H1126.5 V2303.7 H1120.7 V2327.8 H1106 V2303.7 H1099.5 Z" fill="#3b57a6"/>
<path d="M1128.7 2290.2 H1156.5 V2303.7 H1150 V2327.8 H1135.3 V2303.7 H1128.7 Z" fill="#3b57a6"/>
<path d="M1158.7 2290.2 H1175.5 L1180.5 2299.2 L1184.3 2290.2 H1199 L1188 2308.0 L1202.5 2327.8 H1185 L1180 2316.8 L1174 2327.8 H1156.5 L1171.5 2308.0 Z" fill="#3b57a6"/>
<path d="M1234 2290.2 H1248 L1253.7 2306.2 V2290.2 H1266.9 V2327.8 H1253 L1247.1 2310.8 V2327.8 H1234 Z" fill="#3b57a6"/>
<path d="M1198.9 2290.2 H1214.2 L1218.5 2314.8 L1222.3 2290.2 H1234 L1221.5 2327.8 H1212.8 Z" fill="#d8222a"/>
<defs><radialGradient id="gLg" cx="0.4" cy="0.35" r="0.7"><stop offset="0" stop-color="#ffffff"/><stop offset="0.5" stop-color="#9fb3e0"/><stop offset="1" stop-color="#4a63b5"/></radialGradient></defs>
<circle cx="1210.6" cy="2313" r="9.5" fill="url(#gLg)" stroke="#fff" stroke-width="1"/>
<ellipse cx="1212" cy="2313" rx="20.5" ry="6" fill="none" stroke="#d8222a" stroke-width="1.3" transform="rotate(-20 1212 2313)"/>
<text x="1158.4" y="2338.5" font-family="Liberation Sans" font-size="11.0" font-weight="bold" font-style="normal" fill="#c8202c" textLength="108.6" lengthAdjust="spacingAndGlyphs" >Vietnam News Agency</text>
<g id="wm" font-family="Liberation Sans" font-weight="bold" pointer-events="none">
<text x="60" y="1050" transform="rotate(-43.7 60 1050)" font-size="36" textLength="304" lengthAdjust="spacingAndGlyphs" fill="#d4d4d4" fill-opacity="0.26">INFOGRAPHICS</text>
<text x="170" y="1270" transform="rotate(-44.1 170 1270)" font-size="58" textLength="446" lengthAdjust="spacingAndGlyphs" fill="#fff" fill-opacity="0.15" stroke="#dcdcdc" stroke-opacity="0.36" stroke-width="1.4">TTXVN — VNA</text>
<text x="615" y="1150" transform="rotate(-45.7 615 1150)" font-size="36" textLength="308" lengthAdjust="spacingAndGlyphs" fill="#d4d4d4" fill-opacity="0.26">INFOGRAPHICS</text>
<text x="950" y="1110" transform="rotate(-42.4 950 1110)" font-size="58" textLength="460" lengthAdjust="spacingAndGlyphs" fill="#fff" fill-opacity="0.15" stroke="#dcdcdc" stroke-opacity="0.36" stroke-width="1.4">TTXVN — VNA</text>
<text x="140" y="1620" transform="rotate(-45.0 140 1620)" font-size="36" textLength="297" lengthAdjust="spacingAndGlyphs" fill="#d4d4d4" fill-opacity="0.26">INFOGRAPHICS</text>
<text x="500" y="1590" transform="rotate(-44.1 500 1590)" font-size="58" textLength="431" lengthAdjust="spacingAndGlyphs" fill="#fff" fill-opacity="0.15" stroke="#dcdcdc" stroke-opacity="0.36" stroke-width="1.4">TTXVN — VNA</text>
<text x="950" y="1460" transform="rotate(-43.7 950 1460)" font-size="36" textLength="304" lengthAdjust="spacingAndGlyphs" fill="#d4d4d4" fill-opacity="0.26">INFOGRAPHICS</text>
<text x="10" y="2120" transform="rotate(-44.1 10 2120)" font-size="58" textLength="446" lengthAdjust="spacingAndGlyphs" fill="#fff" fill-opacity="0.15" stroke="#dcdcdc" stroke-opacity="0.36" stroke-width="1.4">TTXVN — VNA</text>
<text x="462" y="1958" transform="rotate(-44.0 462 1958)" font-size="36" textLength="317" lengthAdjust="spacingAndGlyphs" fill="#d4d4d4" fill-opacity="0.26">INFOGRAPHICS</text>
<text x="815" y="1905" transform="rotate(-43.9 815 1905)" font-size="58" textLength="462" lengthAdjust="spacingAndGlyphs" fill="#fff" fill-opacity="0.15" stroke="#dcdcdc" stroke-opacity="0.36" stroke-width="1.4">TTXVN — VNA</text>
<text x="1010" y="2080" transform="rotate(-42.6 1010 2080)" font-size="36" textLength="340" lengthAdjust="spacingAndGlyphs" fill="#d4d4d4" fill-opacity="0.26">INFOGRAPHICS</text>
<text x="100" y="2380" transform="rotate(-45.0 100 2380)" font-size="36" textLength="325" lengthAdjust="spacingAndGlyphs" fill="#d4d4d4" fill-opacity="0.26">INFOGRAPHICS</text>
<text x="1000" y="2300" transform="rotate(-46.0 1000 2300)" font-size="58" textLength="417" lengthAdjust="spacingAndGlyphs" fill="#fff" fill-opacity="0.15" stroke="#dcdcdc" stroke-opacity="0.36" stroke-width="1.4">TTXVN — VNA</text>
<text x="690" y="2400" transform="rotate(-43.7 690 2400)" font-size="36" textLength="318" lengthAdjust="spacingAndGlyphs" fill="#d4d4d4" fill-opacity="0.26">INFOGRAPHICS</text>
</g>
<rect x="0" y="0" width="1300" height="5" fill="#ee4f8a"/>
<rect x="0" y="0" width="5.5" height="2369" fill="#ee4f8a"/>
<rect x="1294.5" y="0" width="5.5" height="2369" fill="#ee4f8a"/>
<rect x="0" y="2352" width="1300" height="17" fill="#ee4f8a"/>
<path d="M0 2325 H263 L280 2352 H0 Z" fill="#ee4f8a"/>
<text x="33.9" y="2354.2" font-family="Liberation Sans" font-size="28.7" font-weight="normal" font-style="italic" fill="#fff" textLength="193.8" lengthAdjust="spacingAndGlyphs"  stroke="#fff" stroke-width="0.7" stroke-linejoin="round">infographics.vn</text>
</svg>
</body></html>
